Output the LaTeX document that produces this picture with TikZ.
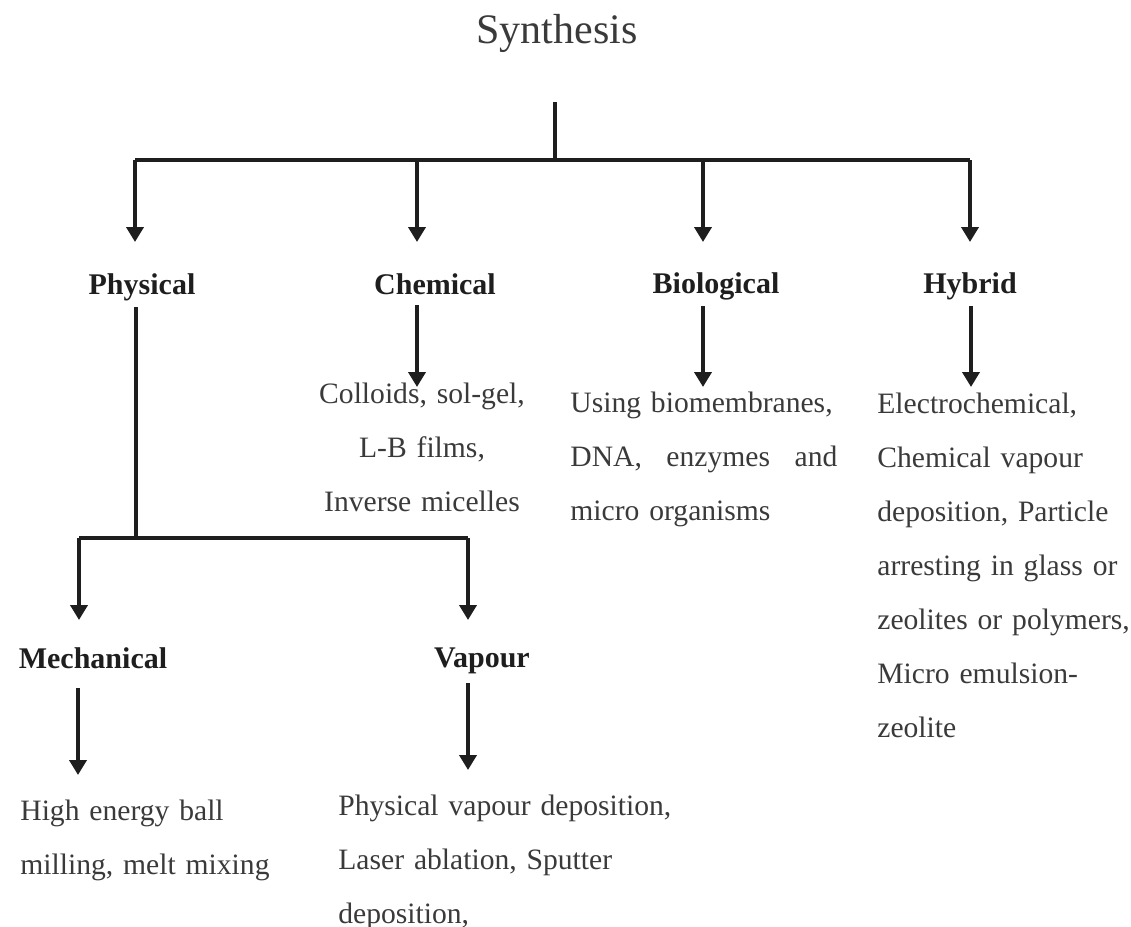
\documentclass[tikz,border=0pt]{standalone}
\usepackage{fontspec}
\setmainfont{Liberation Serif}
\usetikzlibrary{arrows.meta}
\definecolor{ink}{HTML}{1E1E1E}
\definecolor{txt}{HTML}{3A3A3A}
\begin{document}
\begin{tikzpicture}[x=0.5pt,y=-0.5pt,
  line/.style={draw=ink,line width=1.9pt},
  arr/.style={line, -{Triangle[width=8.5pt,length=7.5pt]}},
  title/.style={font=\fontsize{21}{25}\selectfont,text=txt,inner sep=0pt,anchor=base},
  cat/.style={font=\fontsize{15}{27}\selectfont\bfseries,text=ink,inner sep=0pt,anchor=base},
  body/.style={font=\fontsize{14.8}{27}\selectfont,text=txt,inner sep=0pt,anchor=base west,align=left},
]
\useasboundingbox (0,0) rectangle (1131,927);
% title
\node[title] (syn) at (557,43) {Synthesis};
\coordinate (top) at (555,102);
\coordinate (hub) at (555,160);
% branch labels
\node[cat] (phys) at (142,294) {Physical};
\node[cat] (chem) at (435,294) {Chemical};
\node[cat] (bio) at (716,293) {Biological};
\node[cat] (hyb) at (970,293) {Hybrid};
% top tree
\coordinate (pa) at (135,242);
\coordinate (ca) at (417,242);
\coordinate (ba) at (703,242);
\coordinate (ha) at (970,242);
\draw[line] (top) -- (hub);
\draw[line] (hub -| pa) -- (hub -| ha);
\draw[arr] (hub -| pa) -- (pa);
\draw[arr] (hub -| ca) -- (ca);
\draw[arr] (hub -| ba) -- (ba);
\draw[arr] (hub -| ha) -- (ha);
% descriptions
\node[body,anchor=base,align=center,text width=240pt] (chemtxt) at (422,403)
  {Colloids, sol-gel,\\ L-B films,\\ Inverse micelles};
\node[body,text width=134pt] (biotxt) at (570,412)
  {Using biomembranes,\\ \leavevmode\hbox to 133.5pt{DNA,\hfill enzymes\hfill and}\\ micro organisms};
\node[body,text width=140pt] (hybtxt) at (877,413)
  {Electrochemical,\\ Chemical vapour\\ deposition, Particle\\ arresting in glass or\\ zeolites or polymers,\\ Micro emulsion-\\ zeolite};
\coordinate (cs) at (417,305);
\coordinate (bs) at (703,306);
\coordinate (hs) at (971,306);
\draw[arr] (cs) -- (cs |- 0,387);
\draw[arr] (bs) -- (bs |- 0,387);
\draw[arr] (hs) -- (hs |- 0,387);
% physical sub tree
\coordinate (ps) at (136,307);
\coordinate (pj) at (136,538);
\node[cat] (mech) at (93,668) {Mechanical};
\node[cat] (vap) at (482,667) {Vapour};
\coordinate (ma) at (79,620);
\coordinate (va) at (468,620);
\draw[line] (ps) -- (pj);
\draw[line] (pj -| ma) -- (pj -| va);
\draw[arr] (pj -| ma) -- (ma);
\draw[arr] (pj -| va) -- (va);
\node[body,text width=200pt] (mechtxt) at (20,820)
  {High energy ball\\ milling, melt mixing};
\node[body,text width=200pt] (vaptxt) at (338,815)
  {Physical vapour deposition,\\ Laser ablation, Sputter\\ deposition,};
\coordinate (ms) at (78,688);
\coordinate (vs) at (468,683);
\draw[arr] (ms) -- (78,775);
\draw[arr] (vs) -- (468,770);
\end{tikzpicture}
\end{document}
